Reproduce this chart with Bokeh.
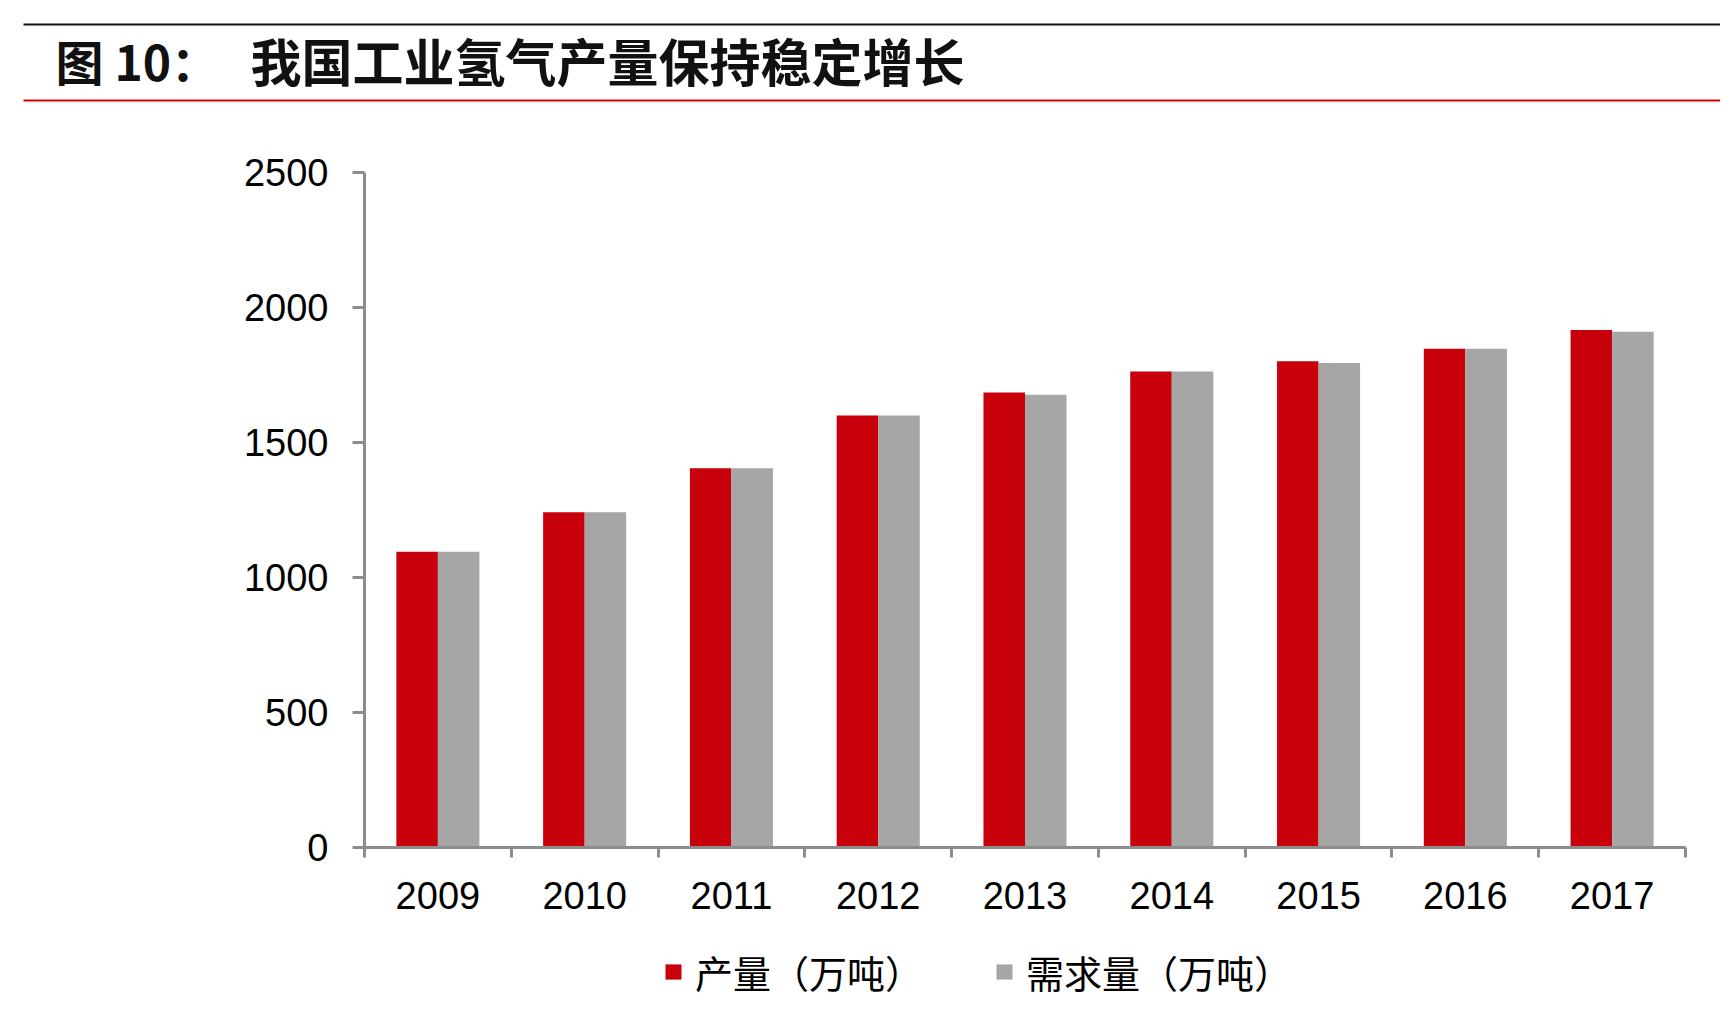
from bokeh.plotting import figure
from bokeh.models import Range1d, FixedTicker, Legend, LegendItem, ColumnDataSource
from bokeh.layouts import column
from bokeh.transform import dodge
from bokeh.core.properties import value
from bokeh.embed import file_html
from bokeh.resources import INLINE

# data
years = ['2009', '2010', '2011', '2012', '2013', '2014', '2015', '2016', '2017']
production = [1095, 1242, 1405, 1600, 1685, 1763, 1801, 1847, 1917]
demand = [1095, 1242, 1405, 1600, 1677, 1763, 1794, 1847, 1910]
y_ticks = [0, 500, 1000, 1500, 2000, 2500]
title_no = "图 10："
title_txt = "我国工业氢气产量保持稳定增长"
legend_names = ["产量（万吨）", "需求量（万吨）"]

RED = "#C8000B"
GREY = "#A6A6A6"
AXIS = "#8C8C8C"
CJK = value("Noto Sans CJK SC")

# header strip with the two rules and the title
head = figure(width=1720, height=110, x_range=Range1d(0, 1720), y_range=Range1d(110, 0),
              toolbar_location=None, output_backend="svg", min_border=0,
              x_axis_location=None, y_axis_location=None)
head.frame_align = False
head.grid.visible = False
head.outline_line_color = None
head.segment(x0=[23], y0=[24], x1=[1720], y1=[24], line_color="#111111", line_width=2)
head.segment(x0=[23], y0=[100], x1=[1720], y1=[100], line_color="#D00000", line_width=2)
head.text(x=[55], y=[59], text=[title_no], text_font=CJK, text_font_style="bold",
          text_font_size="48px", text_baseline="middle", text_color="#111111")
head.text(x=[250], y=[59], text=[title_txt], text_font=CJK, text_font_style="bold",
          text_font_size="51px", text_baseline="middle", text_color="#111111")

# main chart
idx = list(range(len(years)))
src = ColumnDataSource(dict(x=idx, prod=production, dem=demand))

p = figure(width=1720, height=820, x_range=Range1d(-0.5, len(years) - 0.5), y_range=Range1d(0, 2500),
           toolbar_location=None, output_backend="svg",
           min_border_left=364, min_border_right=35, min_border_top=62, min_border_bottom=83)
p.frame_align = False
p.grid.visible = False
p.outline_line_color = None

w = 0.283
p.vbar(x=dodge('x', -w / 2), top='prod', width=w, source=src, fill_color=RED, line_color=None)
p.vbar(x=dodge('x', w / 2), top='dem', width=w, source=src, fill_color=GREY, line_color=None)

xa = p.xaxis[0]
xa.ticker = FixedTicker(ticks=idx, minor_ticks=[i - 0.5 for i in range(len(years) + 1)])
xa.major_label_overrides = {i: years[i] for i in idx}
xa.major_tick_out = 0
xa.major_tick_in = 0
xa.minor_tick_out = 10
xa.minor_tick_in = 0
xa.minor_tick_line_color = AXIS
xa.minor_tick_line_width = 3
xa.axis_line_color = AXIS
xa.axis_line_width = 3
xa.major_label_standoff = 24
xa.major_label_text_font = "Liberation Sans"
xa.major_label_text_font_size = "38px"
xa.major_label_text_color = "black"

ya = p.yaxis[0]
ya.ticker = FixedTicker(ticks=y_ticks)
ya.major_tick_out = 12
ya.major_tick_in = 0
ya.minor_tick_out = 0
ya.minor_tick_in = 0
ya.major_tick_line_color = AXIS
ya.major_tick_line_width = 3
ya.axis_line_color = AXIS
ya.axis_line_width = 3
ya.major_label_standoff = 24
ya.major_label_text_font = "Liberation Sans"
ya.major_label_text_font_size = "38px"
ya.major_label_text_color = "black"

# legend strip under the chart (its bars sit outside the visible range)
lf = figure(width=1720, height=80, x_range=Range1d(-20, -19), y_range=Range1d(0, 1),
            toolbar_location=None, output_backend="svg", min_border=0,
            x_axis_location=None, y_axis_location=None)
lf.frame_align = False
lf.grid.visible = False
lf.outline_line_color = None
k1 = lf.vbar(x='x', top='prod', width=w, source=src, fill_color=RED, line_color=None)
k2 = lf.vbar(x='x', top='dem', width=w, source=src, fill_color=GREY, line_color=None)
legend = Legend(items=[LegendItem(label=legend_names[0], renderers=[k1]),
                       LegendItem(label=legend_names[1], renderers=[k2])],
                orientation="horizontal", location=(663, 11),
                glyph_width=20, glyph_height=19, label_standoff=12, spacing=71,
                padding=0, margin=0, border_line_color=None, background_fill_alpha=0,
                label_text_font="Noto Sans CJK SC", label_text_font_size="38px",
                label_text_color="black")
lf.add_layout(legend)

layout = column(head, p, lf)
open("out.html", "w", encoding="utf-8").write(file_html(layout, INLINE))
